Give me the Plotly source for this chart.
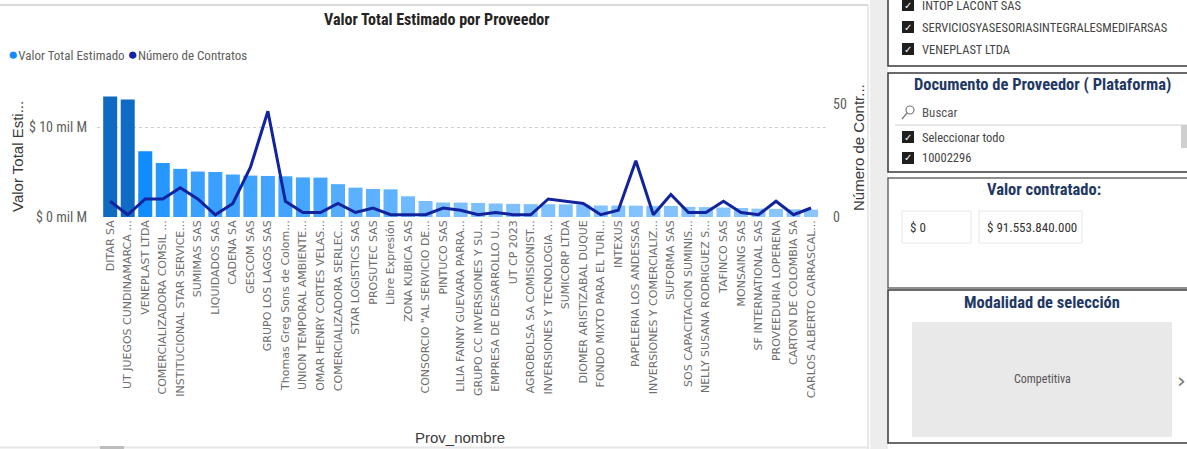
import plotly.graph_objects as go

W, H = 1187, 449

proveedores = [
    "DITAR SA", "UT JUEGOS CUNDINAMARCA ...", "VENEPLAST LTDA", "COMERCIALIZADORA COMSIL ...",
    "INSTITUCIONAL STAR SERVICE...", "SUMIMAS SAS", "LIQUIDADOS SAS", "CADENA SA", "GESCOM SAS",
    "GRUPO LOS LAGOS SAS", "Thomas Greg Sons de Colom...", "UNION TEMPORAL AMBIENTE...",
    "OMAR HENRY CORTES VELAS...", "COMERCIALIZADORA SERLEC...", "STAR LOGISTICS SAS", "PROSUTEC SAS",
    "Libre Expresión", "ZONA KUBICA SAS", "CONSORCIO \"AL SERVICIO DE...", "PINTUCO SAS",
    "LILIA FANNY GUEVARA PARRA...", "GRUPO CC INVERSIONES Y SU...", "EMPRESA DE DESARROLLO U...",
    "UT CP 2023", "AGROBOLSA SA COMISIONIST...", "INVERSIONES Y TECNOLOGIA ...", "SUMICORP LTDA",
    "DIOMER ARISTIZABAL DUQUE", "FONDO MIXTO PARA EL TURI...", "INTEXUS", "PAPELERIA LOS ANDESSAS",
    "INVERSIONES Y COMERCIALIZ...", "SUFORMA SAS", "SOS CAPACITACION SUMINIS...",
    "NELLY SUSANA RODRIGUEZ S...", "TAFINCO SAS", "MONSAING SAS", "SF INTERNATIONAL SAS",
    "PROVEEDURIA LOPERENA", "CARTON DE COLOMBIA SA", "CARLOS ALBERTO CARRASCAL...",
]

valor_total = [
    13.40e9, 13.05e9, 7.30e9, 6.00e9, 5.35e9, 5.05e9, 5.00e9, 4.72e9, 4.60e9, 4.56e9,
    4.52e9, 4.40e9, 4.38e9, 3.65e9, 3.26e9, 3.11e9, 3.07e9, 2.30e9, 1.78e9, 1.61e9,
    1.60e9, 1.56e9, 1.50e9, 1.46e9, 1.43e9, 1.42e9, 1.40e9, 1.36e9, 1.28e9, 1.27e9,
    1.26e9, 1.23e9, 1.22e9, 1.12e9, 1.10e9, 1.05e9, 1.00e9, 0.93e9, 0.90e9, 0.86e9,
    0.82e9,
]

num_contratos = [
    7, 1, 8, 8, 13, 8, 1, 6, 22, 47,
    7, 2, 2, 6, 2, 4, 1, 1, 1, 4,
    3, 1, 2, 1, 1, 8, 7, 6, 1, 3,
    25, 1, 10, 2, 2, 7, 2, 1, 7, 1,
    4,
]

y_ticks_vals = [0, 1e10]
y_ticks_text = ["$ 0 mil M", "$ 10 mil M"]
y2_ticks_vals = [0, 50]

slicer1_items = ["INTOP LACONT SAS", "SERVICIOSYASESORIASINTEGRALESMEDIFARSAS", "VENEPLAST LTDA"]
slicer2_items = ["Seleccionar todo", "10002296"]
rango_min, rango_max = "$ 0", "$ 91.553.840.000"
modalidad = "Competitiva"


def px(x):
    return x / W


def py(y):
    return 1 - y / H


def lerp(c1, c2, t):
    return "rgb(%d,%d,%d)" % tuple(round(a + (b - a) * t) for a, b in zip(c1, c2))


light, mid, dark = (0x8A, 0xC6, 0xFF), (0x11, 0x8D, 0xFF), (0x0F, 0x6A, 0xC2)
vmin, vmax = min(valor_total), max(valor_total)
bar_colors = []
for v in valor_total:
    t = (v - vmin) / (vmax - vmin)
    bar_colors.append(lerp(light, mid, t / 0.5) if t < 0.5 else lerp(mid, dark, (t - 0.5) / 0.5))

NARROW = "Liberation Sans Narrow, Roboto Condensed, Roboto, sans-serif"
GRAY = "#605E5C"

fig = go.Figure()
fig.add_trace(go.Bar(x=proveedores, y=valor_total, marker=dict(color=bar_colors, line=dict(width=0)),
                     name="Valor Total Estimado", yaxis="y"))
fig.add_trace(go.Scatter(x=proveedores, y=num_contratos, mode="lines", name="Número de Contratos",
                         line=dict(color="#12239E", width=3), yaxis="y2"))

y_bottom, y_top = 217, 85
left_top = (y_bottom - y_top) / 90 * 1e10
right_top = (y_bottom - y_top) / (112.5 / 50)

fig.update_layout(
    width=W, height=H, margin=dict(l=0, r=0, t=0, b=0),
    paper_bgcolor="white", plot_bgcolor="white", showlegend=False, bargap=0.2,
    xaxis=dict(domain=[px(97), px(827)], range=[-0.753, 40.91], tickangle=-90,
               tickfont=dict(family="DejaVu Sans", size=11, color="#6E6E6E"), showgrid=False,
               showline=False, ticks="", automargin=False),
    yaxis=dict(domain=[py(y_bottom), py(y_top)], range=[0, left_top], tickvals=y_ticks_vals,
               ticktext=y_ticks_text, showgrid=True, gridcolor="#CFCFCF", griddash="dot",
               gridwidth=1, zeroline=False, anchor="free", position=px(87),
               tickfont=dict(family=NARROW, size=14, color=GRAY), automargin=False),
    yaxis2=dict(overlaying="y", side="right", range=[0, right_top], tickvals=y2_ticks_vals,
                showgrid=False, zeroline=False, anchor="free", position=px(832),
                tickfont=dict(family=NARROW, size=14, color=GRAY), automargin=False),
    bargroupgap=0,
)

shapes = []
ann = []


def text(x, y, s, size=13, color="#333333", family=NARROW, xanchor="left", bold=False, angle=0):
    if bold:
        s = "<b>%s</b>" % s
    ann.append(dict(x=px(x), y=py(y), xref="paper", yref="paper", text=s, showarrow=False,
                    xanchor=xanchor, yanchor="middle", textangle=angle,
                    font=dict(size=size, color=color, family=family)))


def rect(x0, y0, x1, y1, fill=None, line=None, lw=1):
    shapes.append(dict(type="rect", xref="paper", yref="paper", x0=px(x0), x1=px(x1),
                       y0=py(y1), y1=py(y0), fillcolor=fill or "rgba(0,0,0,0)",
                       line=dict(color=line or "rgba(0,0,0,0)", width=lw if line else 0), layer="below"))


def seg(x0, y0, x1, y1, color, w=1):
    shapes.append(dict(type="line", xref="paper", yref="paper", x0=px(x0), x1=px(x1),
                       y0=py(y0), y1=py(y1), line=dict(color=color, width=w)))


# Chart frame
seg(0, 5, 868, 5, "#DADADA", 2)
seg(868, 5, 868, 449, "#D0D0D0", 1)
seg(0, 447.5, 868, 447.5, "#E6E6E6", 2)
seg(100, 447.5, 124, 447.5, "#BDBDBD", 3)
rect(870, -2, 888, 452, fill="#EDEDED")

# Chart texts
text(437, 20, "Valor Total Estimado por Proveedor", size=16, color="#252423", xanchor="center", bold=True)
text(6, 54, "<span style='color:#118DFF;font-size:17px'>●</span>Valor Total Estimado "
            "<span style='color:#12239E;font-size:17px'>●</span>Número de Contratos", size=13, color=GRAY)
text(17, 157, "Valor Total Esti...", size=15, color="#3B3A39", family="Liberation Sans",
     xanchor="center", angle=-90)
text(859, 148, "Número de Contr...", size=15, color="#3B3A39", family="Liberation Sans",
     xanchor="center", angle=-90)
text(460, 437, "Prov_nombre", size=15, color="#3B3A39", family="Liberation Sans", xanchor="center")

# Right side panels
PANEL = "#3A3A3A"
TITLE = "#1F3864"
rect(888, -5, 1195, 66, fill="white", line=PANEL, lw=1.5)
rect(888, 73, 1195, 172, fill="white", line=PANEL, lw=1.5)
rect(888, 178, 1195, 288, fill="white", line="#6A6A6A", lw=1.5)
rect(888, 290, 1195, 443, fill="white", line=PANEL, lw=1.5)


def checkbox(y, label):
    rect(902, y - 6, 914, y + 6, fill="#1E1E1E")
    ann.append(dict(x=px(908), y=py(y), xref="paper", yref="paper", text="✓", showarrow=False,
                    xanchor="center", yanchor="middle",
                    font=dict(size=10, color="white", family="DejaVu Sans")))
    text(920, y, label, size=12.5, color="#444444")


for i, item in enumerate(slicer1_items):
    checkbox(5 + 22 * i, item)

text(1042, 85, "Documento de Proveedor ( Plataforma)", size=16.5, color=TITLE, xanchor="center", bold=True)
shapes.append(dict(type="circle", xref="paper", yref="paper", x0=px(906), x1=px(914),
                   y0=py(114), y1=py(106), line=dict(color="#777777", width=1.2)))
seg(907, 113, 902, 119, "#777777", 1.2)
text(920, 113, "Buscar", size=13, color="#555555")
seg(895, 125, 1187, 125, "#D0D0D0", 1)
rect(1181, 125, 1187, 148, fill="#CFCFCF")
for i, item in enumerate(slicer2_items):
    checkbox(137 + 21 * i, item)

text(1044, 189, "Valor contratado:", size=16.5, color=TITLE, xanchor="center", bold=True)
rect(902, 211, 971, 243, fill="white", line="#E6E6E6", lw=1)
rect(979, 211, 1082, 243, fill="white", line="#E6E6E6", lw=1)
text(908, 227, rango_min, size=13, color="#333333")
text(985, 227, rango_max, size=13, color="#333333")

text(1042, 302, "Modalidad de selección", size=16.5, color=TITLE, xanchor="center", bold=True)
rect(912, 322, 1172, 437, fill="#E9E9E9")
text(1042, 379, modalidad, size=12, color="#555555", xanchor="center")
text(1181, 380, "›", size=22, color="#777777", family="DejaVu Sans", xanchor="center")

fig.update_layout(shapes=shapes, annotations=ann)
fig.write_html("out.html", config={"displayModeBar": False},
               post_script="document.body.style.margin='0';document.body.style.overflow='hidden';")
